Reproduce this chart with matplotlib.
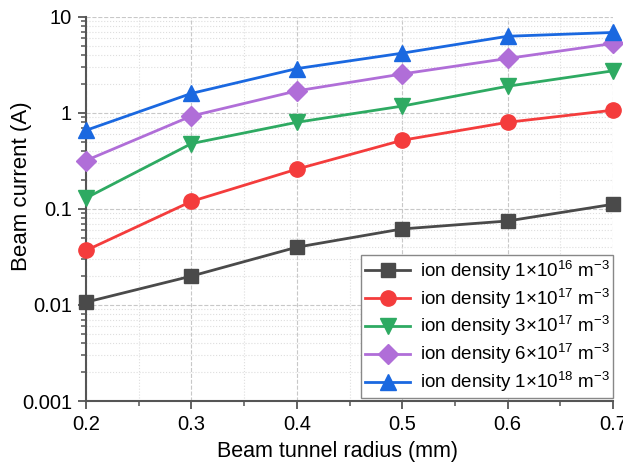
import matplotlib
matplotlib.use("Agg")
import matplotlib.pyplot as plt
from matplotlib.ticker import LogLocator, MultipleLocator, FixedLocator, FixedFormatter

plt.rcParams['font.family'] = ['Liberation Sans', 'DejaVu Sans']
plt.rcParams['mathtext.fontset'] = 'custom'
plt.rcParams['mathtext.rm'] = 'Liberation Sans'
plt.rcParams['mathtext.it'] = 'Liberation Sans'

radius = [0.2, 0.3, 0.4, 0.5, 0.6, 0.7]
d1e16 = [0.0107, 0.020, 0.040, 0.062, 0.075, 0.112]
d1e17 = [0.037, 0.12, 0.26, 0.52, 0.80, 1.07]
d3e17 = [0.13, 0.48, 0.80, 1.18, 1.9, 2.75]
d6e17 = [0.32, 0.93, 1.7, 2.55, 3.7, 5.3]
d1e18 = [0.66, 1.6, 2.9, 4.2, 6.3, 6.9]

labels = [r"ion density 1$\times$10$^{16}$ m$^{-3}$",
          r"ion density 1$\times$10$^{17}$ m$^{-3}$",
          r"ion density 3$\times$10$^{17}$ m$^{-3}$",
          r"ion density 6$\times$10$^{17}$ m$^{-3}$",
          r"ion density 1$\times$10$^{18}$ m$^{-3}$"]
series = [d1e16, d1e17, d3e17, d6e17, d1e18]
colors = ['#4a4a4a', '#f43c3c', '#2eaa62', '#b06ed8', '#1a68e0']
markers = ['s', 'o', 'v', 'D', '^']
msizes = [10, 11, 12, 10, 12]

fig = plt.figure(figsize=(6.23, 4.69), dpi=100)
ax = fig.add_axes([86/623, 68/469, 527/623, 384/469])

for y, c, m, ms, lab in zip(series, colors, markers, msizes, labels):
    ax.plot(radius, y, color=c, marker=m, markersize=ms, linewidth=2, label=lab, zorder=3, clip_on=False)

ax.set_yscale('log')
ax.set_ylim(0.001, 10)
ax.set_xlim(0.2, 0.7)
ax.xaxis.set_major_locator(FixedLocator(radius))
ax.xaxis.set_major_formatter(FixedFormatter(['0.2', '0.3', '0.4', '0.5', '0.6', '0.7']))
ax.xaxis.set_minor_locator(MultipleLocator(0.05))
ax.yaxis.set_major_locator(FixedLocator([0.001, 0.01, 0.1, 1, 10]))
ax.yaxis.set_major_formatter(FixedFormatter(['0.001', '0.01', '0.1', '1', '10']))
ax.yaxis.set_minor_locator(LogLocator(base=10, subs=range(2, 10)))

ax.grid(which='major', color='#c8c8c8', linestyle='--', linewidth=0.8)
ax.grid(which='minor', color='#dedede', linestyle=':', linewidth=0.8)
ax.set_axisbelow(True)

for s in ['top', 'right']:
    ax.spines[s].set_visible(False)
for s in ['left', 'bottom']:
    ax.spines[s].set_color('#555555')
    ax.spines[s].set_linewidth(1.5)

ax.tick_params(which='major', direction='out', length=6, width=1.3, color='#555555', labelsize=14.5, pad=4)
ax.tick_params(which='minor', direction='out', length=3.5, width=1.1, color='#555555')
ax.tick_params(axis='y', which='minor', labelleft=False)

ax.set_xlabel('Beam tunnel radius (mm)', fontsize=15.5)
ax.set_ylabel('Beam current (A)', fontsize=16)
ax.xaxis.set_label_coords(0.477, -0.105)
ax.yaxis.set_label_coords(-0.102, 0.559)

leg = ax.legend(loc='lower right', bbox_to_anchor=(1.0, 0.008), fontsize=13.5, frameon=True, fancybox=False,
                edgecolor='#888888', framealpha=1, borderpad=0.2, labelspacing=0.2,
                handlelength=2.4, handletextpad=0.5, borderaxespad=0.0)
leg.get_frame().set_linewidth(1.0)

fig.savefig('out.png', dpi=100)
